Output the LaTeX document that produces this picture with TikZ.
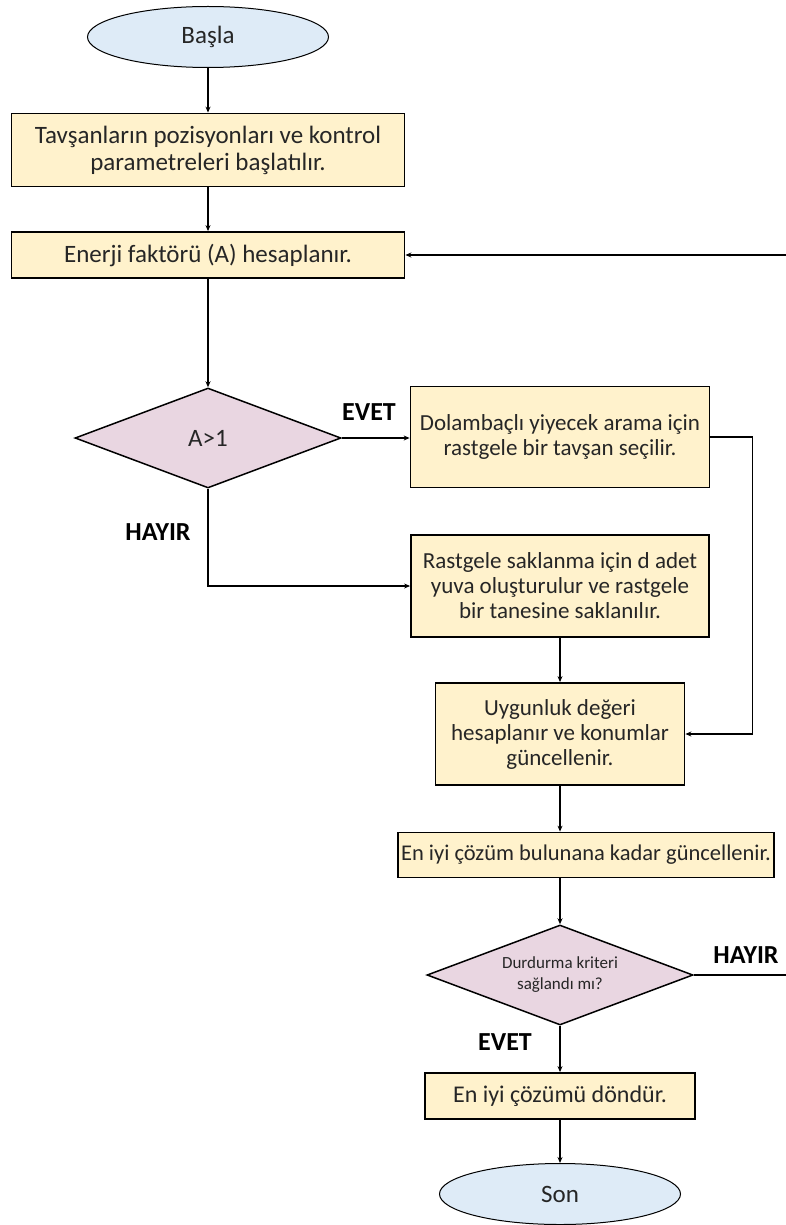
\documentclass[tikz,border=0pt]{standalone}
\usepackage{fontspec}
\setmainfont{Carlito}
\usetikzlibrary{shapes.geometric,arrows.meta}
\definecolor{kutusari}{HTML}{FFF2CC}
\definecolor{elipsmavi}{HTML}{DEEBF7}
\definecolor{karapembe}{HTML}{E9D6E1}
\definecolor{yazi}{HTML}{262626}
\begin{document}
\begin{tikzpicture}[x=1pt, y=-1pt, >={Stealth[length=6pt,width=5pt]},
  kutu/.style={draw, line width=1.8pt, fill=kutusari, text=yazi, align=center,
    inner sep=0pt, font=\fontsize{23}{25}\selectfont},
  elips/.style={ellipse, draw, line width=1pt, fill=elipsmavi, text=yazi,
    minimum width=241pt, minimum height=61pt, font=\fontsize{25}{26}\selectfont},
  karar/.style={diamond, aspect=2.66, draw, line width=1.5pt, fill=karapembe, text=yazi,
    align=center, inner sep=0pt, minimum width=266pt, minimum height=100pt},
  etiket/.style={font=\fontsize{26}{28}\bfseries},
  ok/.style={->, line width=1.8pt}]
\useasboundingbox (0,0) rectangle (786,1225);

% Baslangic
\node[elips] (basla) at (208,37) {Başla};
\node[kutu, font=\fontsize{25}{27}\selectfont, minimum width=393pt, minimum height=73pt] (k1) at (208,150)
  {Tavşanların pozisyonları ve kontrol\\parametreleri başlatılır.};
\node[kutu, font=\fontsize{25}{27}\selectfont, minimum width=393pt, minimum height=46pt] (k2) at (208,255)
  {Enerji faktörü (A) hesaplanır.};

% Birinci karar
\node[karar, font=\fontsize{25}{26}\selectfont] (karar1) at (208,438) {A>1};
\node[kutu, minimum width=299pt, minimum height=101pt] (k3) at (560,437)
  {Dolambaçlı yiyecek arama için\\rastgele bir tavşan seçilir.};
\node[kutu, minimum width=298pt, minimum height=102pt] (k4) at (560,586)
  {Rastgele saklanma için d adet\\yuva oluşturulur ve rastgele\\bir tanesine saklanılır.};
\node[kutu, minimum width=249pt, minimum height=102pt] (k5) at (560,734)
  {Uygunluk değeri\\hesaplanır ve konumlar\\güncellenir.};
\node[kutu, font=\fontsize{22.5}{25}\selectfont, minimum width=376pt, minimum height=45pt] (k6) at (586,855)
  {En iyi çözüm bulunana kadar güncellenir.};

% Ikinci karar
\node[karar, font=\fontsize{17}{21}\selectfont] (karar2) at (560,975)
  {Durdurma kriteri\\sağlandı mı?};
\node[kutu, font=\fontsize{24}{25}\selectfont, minimum width=270pt, minimum height=46pt] (k7) at (560,1096)
  {En iyi çözümü döndür.};
\node[elips] (son) at (560,1194) {Son};

% Etiketler
\node[etiket] (evet1) at (369,412) {EVET};
\node[etiket] (hayir1) at (158,532) {HAYIR};
\node[etiket] (hayir2) at (746,955) {HAYIR};
\node[etiket] (evet2) at (505,1042) {EVET};

% Kenar uclari
\coordinate (kenar1) at (786,255);
\coordinate (kenar2) at (786,975);

% Oklar
\draw[ok] (basla.south) -- (basla.south |- k1.north);
\draw[ok] (k1) -- (k2);
\draw[ok] (k2.south) -- (karar1.north);
\draw[ok] (kenar1) -- (k2.east);
\draw[ok] (karar1.east) -- (karar1.east -| k3.west);
\draw[ok] (karar1.south) |- (k4.west);
\draw[ok] (k4.south) -- (k5.north);
\draw[ok] (k3.east) -- ++(42,0) |- (k5.east);
\draw[ok] (k5.south) -- (k5.south |- k6.north);
\draw[ok] (k5.south |- k6.south) -- (karar2.north);
\draw[line width=1.8pt] (karar2.east) -- (kenar2);
\draw[ok] (karar2.south) -- (k7.north);
\draw[ok] (k7.south) -- (son.north);
\end{tikzpicture}
\end{document}
